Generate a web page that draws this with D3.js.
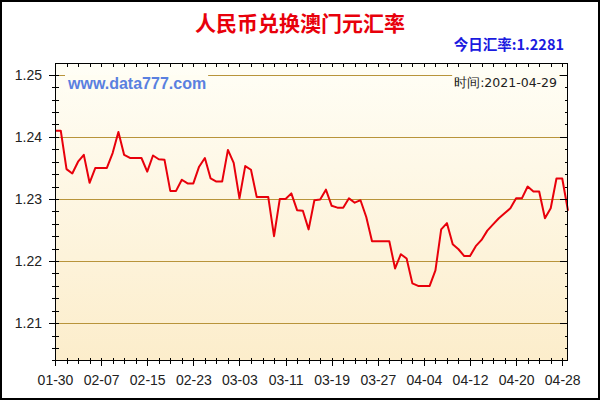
<!DOCTYPE html>
<html><head><meta charset="utf-8">
<script src="https://cdn.jsdelivr.net/npm/d3@7"></script>
<style>html,body{margin:0;padding:0;background:#fff;}svg{display:block;}</style>
</head><body>
<svg id="c" width="600" height="400"></svg>
<script>
const title = "人民币兑换澳门元汇率";
const todayLabel = "今日汇率:1.2281";
const watermark = "www.data777.com";
const timeLabel = "时间:2021-04-29";
const startDate = "2021-01-30";
const endDate = "2021-04-29";
const rates = [
 1.2410,1.2410,1.2348,1.2341,1.2360,1.2371,1.2326,1.2350,1.2350,1.2350,
 1.2374,1.2408,1.2371,1.2366,1.2366,1.2366,1.2344,1.2370,1.2364,1.2363,
 1.2313,1.2313,1.2331,1.2325,1.2325,1.2352,1.2366,1.2333,1.2328,1.2328,
 1.2379,1.2358,1.2301,1.2353,1.2347,1.2303,1.2303,1.2303,1.2240,1.2300,
 1.2300,1.2309,1.2282,1.2281,1.2251,1.2298,1.2299,1.2315,1.2289,1.2286,
 1.2286,1.2301,1.2294,1.2298,1.2271,1.2232,1.2232,1.2232,1.2232,1.2188,
 1.2211,1.2204,1.2164,1.2160,1.2160,1.2160,1.2185,1.2251,1.2261,1.2227,
 1.2219,1.2208,1.2208,1.2224,1.2234,1.2249,1.2259,1.2269,1.2277,1.2285,
 1.2301,1.2301,1.2320,1.2312,1.2312,1.2269,1.2285,1.2333,1.2333,1.2281
];
const yTicks = [1.21, 1.22, 1.23, 1.24, 1.25];
const xTickLabels = ["01-30","02-07","02-15","02-23","03-03","03-11","03-19","03-27","04-04","04-12","04-20","04-28"];

const parse = d3.utcParse("%Y-%m-%d");
const t0 = parse(startDate), t1 = parse(endDate);
const dates = d3.utcDay.range(t0, d3.utcDay.offset(t1, 1));
const data = dates.map((d, i) => ({date: d, v: rates[i]}));

const svg = d3.select("#c");
const W = 600, H = 400;
const L = 55, R = 568, T = 63, B = 361;
const font = "Arial, 'Liberation Sans', sans-serif";

svg.append("rect").attr("x",1).attr("y",1).attr("width",W-2).attr("height",H-2)
  .attr("fill","#fff").attr("stroke","#000").attr("stroke-width",2);

const defs = svg.append("defs");
const g = defs.append("linearGradient").attr("id","bg").attr("x1",0).attr("y1",0).attr("x2",0).attr("y2",1);
g.append("stop").attr("offset","0%").attr("stop-color","#fffef6");
g.append("stop").attr("offset","100%").attr("stop-color","#fcedcb");

const x = d3.scaleUtc().domain([t0, t1]).range([L, R]);
const y = d3.scaleLinear().domain([1.2039, 1.2519]).range([B, T]);

svg.append("rect").attr("x",L).attr("y",T).attr("width",R-L).attr("height",B-T).attr("fill","url(#bg)");

// grid
svg.append("g").selectAll("line").data(yTicks).join("line")
  .attr("x1",L).attr("x2",R).attr("y1",d=>Math.round(y(d))+0.5).attr("y2",d=>Math.round(y(d))+0.5)
  .attr("stroke","#b8943a").attr("stroke-width",1);

// watermark texts with background
const wm = svg.append("text").attr("x",68).attr("y",89).text(watermark)
  .attr("font-family",font).attr("font-weight","bold").attr("font-size",16).attr("fill","#5a80e0");
const tl = svg.append("text").attr("x",557).attr("y",87).attr("text-anchor","end").text(timeLabel)
  .attr("font-family","'DejaVu Sans', sans-serif").attr("font-size",12.5).attr("fill","#222");
[wm, tl].forEach(t => {
  const b = t.node().getBBox();
  svg.insert("rect", () => t.node()).attr("x",b.x-2).attr("y",b.y).attr("width",b.width+4).attr("height",b.height)
    .attr("fill","#fffdf2");
});

// line
svg.append("path").datum(data)
  .attr("d", d3.line().x(d=>x(d.date)).y(d=>y(d.v)))
  .attr("fill","none").attr("stroke","#e8000b").attr("stroke-width",2).attr("stroke-linejoin","round");

// frame
svg.append("rect").attr("x",L+0.5).attr("y",T+0.5).attr("width",R-L-1).attr("height",B-T-1)
  .attr("fill","none").attr("stroke","#000").attr("stroke-width",1);

// y axis (left/right) major + minor ticks
const yMinor = d3.range(1.204, 1.2519, 0.002);
const ax = svg.append("g").attr("stroke","#000").attr("stroke-width",1);
yMinor.forEach(v => {
  const yy = Math.round(y(v)) + 0.5;
  const major = yTicks.some(t => Math.abs(t - v) < 1e-6);
  ax.append("line").attr("x1", major ? L-6 : L-3).attr("x2", L+4).attr("y1",yy).attr("y2",yy);
  ax.append("line").attr("x1", major ? R-8 : R-3).attr("x2", R).attr("y1",yy).attr("y2",yy);
});
const yAxis = d3.axisLeft(y).tickValues(yTicks).tickFormat(d3.format(".2f")).tickSize(0).tickPadding(13);
const ya = svg.append("g").attr("transform",`translate(${L},0)`).call(yAxis);
ya.select(".domain").remove();
ya.selectAll("text").attr("font-family",font).attr("font-size",14).attr("fill","#222");

// x axis ticks
const xMinor = d3.range(0, dates.length, 2).map(i => dates[i]);
const xMajor = xTickLabels.map((s, i) => dates[i*8]);
xMinor.forEach(d => {
  const xx = Math.round(x(d)) + 0.5;
  const major = xMajor.some(m => +m === +d);
  ax.append("line").attr("x1",xx).attr("x2",xx).attr("y1",B-3).attr("y2", major ? B+5 : B+3);
  ax.append("line").attr("x1",xx).attr("x2",xx).attr("y1",T).attr("y2",T+4);
});
const xAxis = d3.axisBottom(x).tickValues(xMajor).tickFormat((d,i)=>xTickLabels[i]).tickSize(0).tickPadding(14);
const xa = svg.append("g").attr("transform",`translate(0,${B})`).call(xAxis);
xa.select(".domain").remove();
xa.selectAll("text").attr("font-family",font).attr("font-size",14).attr("fill","#222");

// titles
svg.append("text").attr("x",300).attr("y",31).attr("text-anchor","middle").text(title)
  .attr("font-family","'Noto Sans CJK SC', sans-serif").attr("font-weight","bold").attr("font-size",21).attr("fill","#e8000b");
svg.append("text").attr("x",564).attr("y",50).attr("text-anchor","end").text(todayLabel)
  .attr("font-family","'Noto Sans CJK SC', Arial, sans-serif").attr("font-weight","bold").attr("font-size",14.5).attr("fill","#1a1adf");
</script>
</body></html>
